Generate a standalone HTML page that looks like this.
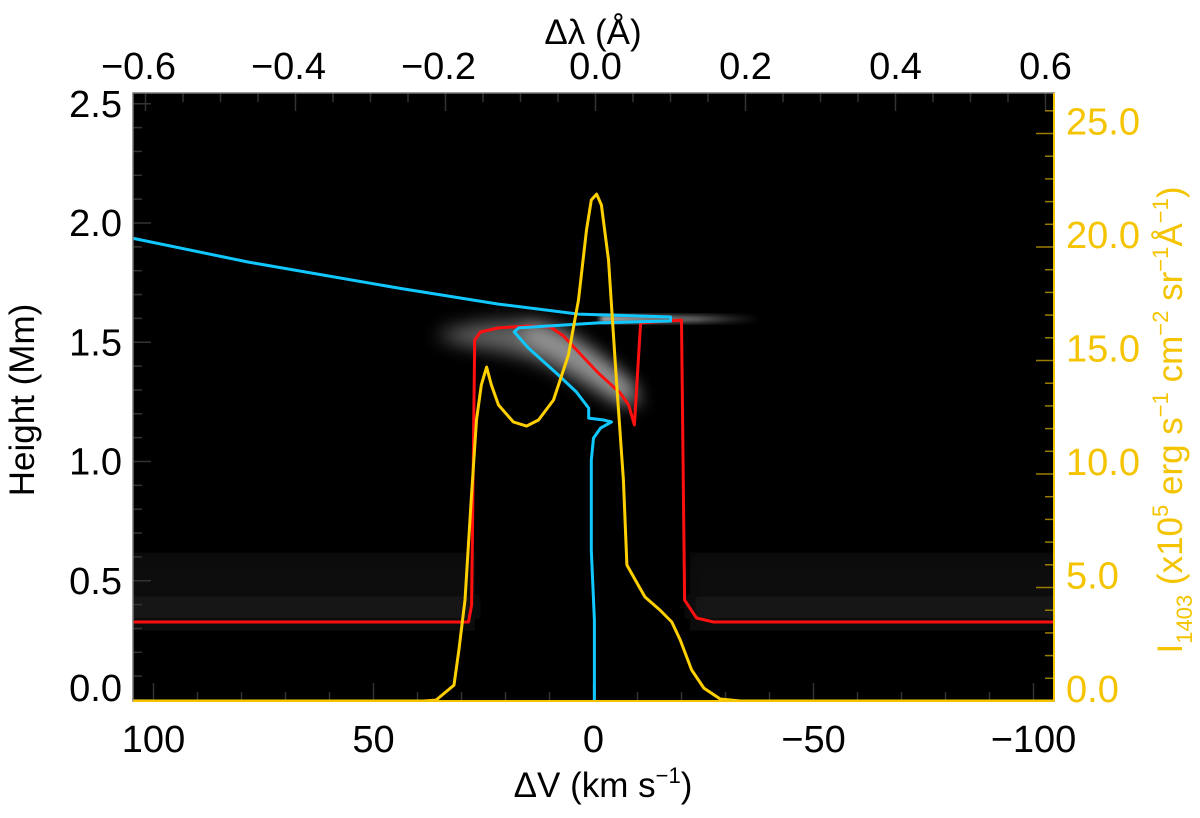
<!DOCTYPE html>
<html><head><meta charset="utf-8">
<style>
html,body{margin:0;padding:0;background:#fff;}
svg{display:block;font-family:"Liberation Sans",Arial,sans-serif;}
</style></head>
<body>
<svg id="chart" width="1200" height="818" viewBox="0 0 1200 818">
<defs>
  <filter id="blur8" x="-50%" y="-50%" width="200%" height="200%"><feGaussianBlur stdDeviation="9"/></filter>
  <filter id="blur4" x="-50%" y="-50%" width="200%" height="200%"><feGaussianBlur stdDeviation="3"/></filter>
  <filter id="blurh" x="-20%" y="-20%" width="140%" height="140%"><feGaussianBlur stdDeviation="8 2"/></filter>
  <clipPath id="pc"><rect x="133" y="93" width="921" height="608"/></clipPath>
  <linearGradient id="streak" x1="0" x2="1" y1="0" y2="0">
    <stop offset="0" stop-color="#fff" stop-opacity="0.9"/>
    <stop offset="0.6" stop-color="#ccc" stop-opacity="0.6"/>
    <stop offset="1" stop-color="#888" stop-opacity="0"/>
  </linearGradient>
  <linearGradient id="band" x1="0" x2="0" y1="0" y2="1">
    <stop offset="0" stop-color="#141414" stop-opacity="0"/>
    <stop offset="0.3" stop-color="#0d0d0d" stop-opacity="1"/>
    <stop offset="0.75" stop-color="#151515" stop-opacity="1"/>
    <stop offset="1" stop-color="#000" stop-opacity="1"/>
  </linearGradient>
</defs>
<rect x="133" y="93" width="921" height="608" fill="#000"/>
<g id="glow" clip-path="url(#pc)">
  <rect x="120" y="543" width="355" height="95" fill="url(#band)" filter="url(#blurh)"/>
  <rect x="690" y="543" width="380" height="95" fill="url(#band)" filter="url(#blurh)"/>
  <path d="M435,335 C470,320 530,316 560,328 C600,350 630,380 642,402 C632,414 600,392 560,372 C520,348 470,352 435,335 Z" fill="#7a7a7a" filter="url(#blur8)" opacity="0.8"/>
  <path d="M525,332 C560,342 600,372 630,396" stroke="#a5a5a5" stroke-width="16" fill="none" filter="url(#blur8)"/>
  <rect x="600" y="316" width="160" height="6" fill="url(#streak)" filter="url(#blur4)"/>
</g>
<g id="axes"></g>
<g id="series" clip-path="url(#pc)"></g>
<rect x="133" y="93" width="921" height="608" fill="none" stroke="#777" stroke-width="1.5"/>
<line x1="1054" y1="93" x2="1054" y2="701" stroke="#f5c400" stroke-width="2"/>
<line x1="133" y1="701" x2="1054" y2="701" stroke="#f5c400" stroke-width="2"/>
<text x="593" y="44" font-size="35" text-anchor="middle">Δλ (Å)</text>
<text x="603" y="797" font-size="35" text-anchor="middle">ΔV (km s<tspan font-size="22" dy="-14">−1</tspan><tspan dy="14">)</tspan></text>
<text transform="translate(34,400) rotate(-90)" font-size="35" text-anchor="middle">Height (Mm)</text>
<text transform="translate(1182,420) rotate(-90)" font-size="35" text-anchor="middle" fill="#f5c400">I<tspan font-size="22" dy="10">1403</tspan><tspan dy="-10"> (x10</tspan><tspan font-size="22" dy="-14">5</tspan><tspan dy="14"> erg s</tspan><tspan font-size="22" dy="-14">−1</tspan><tspan dy="14"> cm</tspan><tspan font-size="22" dy="-14">−2</tspan><tspan dy="14"> sr</tspan><tspan font-size="22" dy="-14">−1</tspan><tspan dy="14">Å</tspan><tspan font-size="22" dy="-14">−1</tspan><tspan dy="14">)</tspan></text>
</svg>
<script>
// Data (velocity in km/s, height in Mm, intensity in 1e5 units)
const blueV = [105,78.4,44.3,21.6,3.4,-17.5,-17.5,-1.1,17.0,18.0,14.8,8.0,3.9,1.1,1.1,-2.3,-4.1,-1.6,0,0.5,0.5,-0.2,-0.2];
const blueH = [1.937,1.836,1.727,1.660,1.618,1.606,1.589,1.581,1.560,1.543,1.476,1.363,1.292,1.224,1.182,1.174,1.166,1.140,1.098,1.006,0.629,0.335,0.0];
const redV = [105,28.4,27.7,27.0,25.7,21.6,14.8,9.8,6.8,3.4,-1.1,-6.1,-8.0,-9.3,-10.7,-20.0,-20.7,-23.4,-27.3,-105];
const redH = [0.327,0.327,0.398,1.509,1.543,1.560,1.568,1.564,1.526,1.459,1.371,1.287,1.237,1.153,1.581,1.593,0.419,0.344,0.327,0.327];
const yelV = [105,38.5,35.8,31.7,30.6,29.2,27.8,26.6,25.5,24.3,23.2,21.6,18.2,15.2,12.5,9.1,5.7,3.4,1.6,0.5,-0.7,-1.8,-3.4,-5.2,-6.8,-7.6,-9.5,-11.7,-15.1,-17.8,-19.7,-22.3,-25.1,-28.8,-33.4,-105];
const yelI = [0,0,0.04,0.70,2.25,4.45,8.85,12.38,13.92,14.71,13.92,13.04,12.29,12.11,12.38,13.26,15.24,17.67,20.75,22.07,22.33,21.85,19.43,14.14,9.74,5.99,5.33,4.58,4.01,3.48,2.69,1.37,0.57,0.09,0,0];
const vTicks = [100,50,0,-50,-100];
const vTickLabels = ["100","50","0","−50","−100"];
const lTicks = [-0.6,-0.4,-0.2,0.0,0.2,0.4,0.6];
const lTickLabels = ["−0.6","−0.4","−0.2","0.0","0.2","0.4","0.6"];
const hTicks = [0,0.5,1.0,1.5,2.0,2.5];
const hTickLabels = ["0.0","0.5","1.0","1.5","2.0","2.5"];
const iTicks = [0,5,10,15,20,25];
const iTickLabels = ["0.0","5.0","10.0","15.0","20.0","25.0"];

const X0=593.5, XS=4.4;
const xV = v => X0 - XS*v;
const xL = l => 595.5 + 750*l;
const yH = h => 700 - 238.5*h;
const yI = i => 701 - 22.7*i;
const NS="http://www.w3.org/2000/svg";
const axes=document.getElementById('axes'), series=document.getElementById('series');
function mk(tag, attrs, parent){const e=document.createElementNS(NS,tag);for(const k in attrs)e.setAttribute(k,attrs[k]);parent.appendChild(e);return e;}

for(let v=-100; v<=100; v+=10){
  const major = v%50===0, L = major?18:9;
  const t=mk('line',{x1:xV(v),x2:xV(v),y1:701,y2:701-L,stroke:'#333','stroke-width':1.5},axes);
  
  
}
for(let k=-12;k<=12;k++){
  const l=k*0.05, major=(k%4===0), L=major?18:9;
  const t=mk('line',{x1:xL(l),x2:xL(l),y1:93,y2:93+L,stroke:'#333','stroke-width':1.5},axes);
  
  
}
for(let k=0;k<=25;k++){
  const h=k*0.1, major=(k%5===0), L=major?18:9;
  const t=mk('line',{x1:133,x2:133+L,y1:yH(h),y2:yH(h),stroke:'#333','stroke-width':1.5},axes);
  
  
}
for(let i=0;i<=26;i++){
  const major=(i%5===0), L=major?18:9;
  const t=mk('line',{x1:1054,x2:1054-L,y1:yI(i),y2:yI(i),stroke:'#9a7d00','stroke-width':1.5},axes);
  
  
}
vTicks.forEach((v,i)=>{
  const t=mk('text',{x:xV(v),y:752,'font-size':38,'text-anchor':'middle'},axes);
  t.textContent=vTickLabels[i];
  
  
});
lTicks.forEach((l,i)=>{
  const t=mk('text',{x:xL(l)-(l<0?7:0),y:79,'font-size':38,'text-anchor':'middle'},axes);
  t.textContent=lTickLabels[i];
  
  
});
hTicks.forEach((h,i)=>{
  const y = i===0 ? 688 : yH(h);
  const t=mk('text',{x:122,y:y+13,'font-size':38,'text-anchor':'end'},axes);
  t.textContent=hTickLabels[i];
  
  
});
iTicks.forEach((v,i)=>{
  const y = yI(v)-12;
  const t=mk('text',{x:1066,y:y+13,'font-size':38,'fill':'#f5c400'},axes);
  t.textContent=iTickLabels[i];
  
  
});

function line(xs, ys, fx, fy, color, name){
  const d = xs.map((v,i)=>(i?'L':'M')+fx(v).toFixed(1)+','+fy(ys[i]).toFixed(1)).join(' ');
  const p=mk('path',{d:d,fill:'none',stroke:color,'stroke-width':3,'stroke-linejoin':'round'},series);
  
  
}
line(redV, redH, xV, yH, '#ff1010', 'red-height-line');
line(blueV, blueH, xV, yH, '#10c8ff', 'blue-height-line');
line(yelV, yelI, xV, yI, '#ffd000', 'intensity-profile-line');
</script>
</body></html>
